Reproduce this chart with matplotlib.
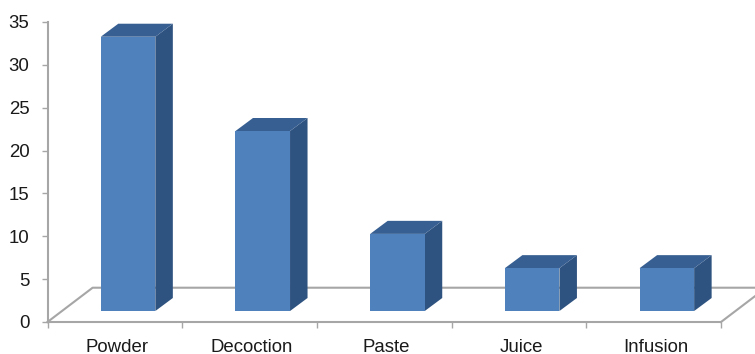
import matplotlib
matplotlib.use("Agg")
from matplotlib import pyplot as plt
from matplotlib.patches import Polygon

plt.rcParams["font.family"] = ["Liberation Sans", "DejaVu Sans"]

categories = ["Powder", "Decoction", "Paste", "Juice", "Infusion"]
values = [32, 21, 9, 5, 5]
y_ticks = [0, 5, 10, 15, 20, 25, 30, 35]

FRONT = "#4f81bd"
SIDE = "#2f5380"
TOP = "#375f92"
GREY = "#a6a6a6"

# 3d look, in data units
BAR_WIDTH = 0.405
BAR_SHIFT = 0.098
BAR_BASE = 1.28
DEPTH_X = 0.13
DEPTH_Y = 1.52
FLOOR_X = 0.335
FLOOR_Y = 4.0

W, H = 755, 354
fig = plt.figure(figsize=(W / 100, H / 100), dpi=100)
ax = fig.add_axes([47.5 / W, 1 - 322 / H, 673.5 / W, 300 / H])
ax.set_xlim(-0.5, 4.5)
ax.set_ylim(0, 35)

# floor
ax.plot(
    [-0.5, -0.5 + FLOOR_X, 4.5 + FLOOR_X, 4.5],
    [0, FLOOR_Y, FLOOR_Y, 0],
    color=GREY,
    lw=1.5,
    clip_on=False,
    zorder=1,
)

for i, v in enumerate(values):
    x0 = i + BAR_SHIFT - BAR_WIDTH / 2
    x1 = i + BAR_SHIFT + BAR_WIDTH / 2
    y0 = BAR_BASE
    y1 = BAR_BASE + v
    ax.add_patch(
        Polygon(
            [(x1, y0), (x1 + DEPTH_X, y0 + DEPTH_Y), (x1 + DEPTH_X, y1 + DEPTH_Y), (x1, y1)],
            fc=SIDE,
            ec="none",
            zorder=2,
        )
    )
    ax.add_patch(
        Polygon(
            [(x0, y1), (x0 + DEPTH_X, y1 + DEPTH_Y), (x1 + DEPTH_X, y1 + DEPTH_Y), (x1, y1)],
            fc=TOP,
            ec="none",
            zorder=2,
        )
    )
    ax.add_patch(
        Polygon(
            [(x0, y0), (x1, y0), (x1, y1), (x0, y1)],
            fc=FRONT,
            ec="none",
            zorder=3,
        )
    )

for name in ["top", "right"]:
    ax.spines[name].set_visible(False)
for name in ["left", "bottom"]:
    ax.spines[name].set_color(GREY)
    ax.spines[name].set_linewidth(1.5)

ax.set_yticks(y_ticks)
ax.set_xticks([i - 0.5 for i in range(len(categories) + 1)])
ax.set_xticklabels([])
ax.tick_params(axis="both", color=GREY, width=1.0, length=4)
ax.tick_params(axis="y", labelsize=13.4, pad=9, labelcolor="#1a1a1a")

# category names sit between the ticks
for i, name in enumerate(categories):
    ax.annotate(
        name,
        xy=(i + 0.016, 0),
        xycoords=("data", "axes fraction"),
        xytext=(0, -18),
        textcoords="offset points",
        ha="center",
        va="center",
        fontsize=13.4,
        color="#1a1a1a",
    )

fig.savefig("out.png", dpi=100)
plt.close(fig)
